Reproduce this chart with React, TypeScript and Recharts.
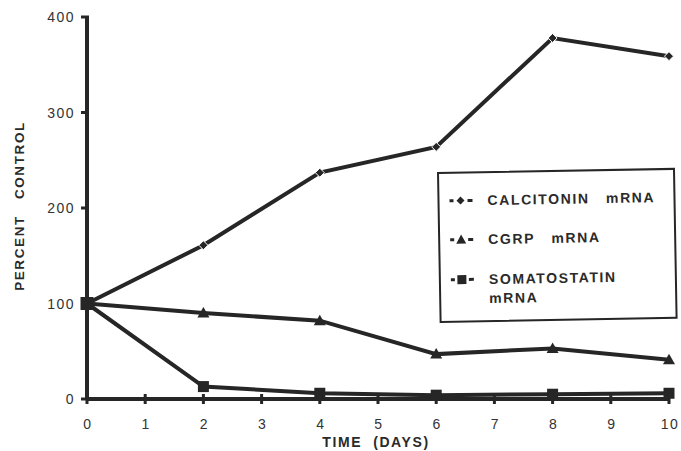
import React from 'react';
import { LineChart, Line, XAxis, YAxis, Legend } from 'recharts';

const days = [0, 2, 4, 6, 8, 10];
const calcitonin = [100, 161, 237, 264, 378, 359];
const cgrp = [100, 90, 82, 47, 53, 41];
const somatostatin = [100, 13, 6, 4, 5, 6];

const xTicks = [0, 1, 2, 3, 4, 5, 6, 7, 8, 9, 10];
const yTicks = [0, 100, 200, 300, 400];

const seriesNames = ['CALCITONIN\u00A0\u00A0\u00A0mRNA', 'CGRP\u00A0\u00A0\u00A0mRNA', 'SOMATOSTATIN'];

const data = days.map((d, i) => ({
  day: d,
  calcitonin: calcitonin[i],
  cgrp: cgrp[i],
  somatostatin: somatostatin[i],
}));

const INK = '#262626';
const TEXT = '#333333';
const FONT = '"Liberation Sans", Arial, sans-serif';

const Diamond = (props: any) => {
  const { cx, cy, index } = props;
  if (cx == null || cy == null || index === 0) return <g key={`d${index}`} />;
  const r = 4.5;
  return (
    <path key={`d${index}`} d={`M${cx},${cy - r}L${cx + r},${cy}L${cx},${cy + r}L${cx - r},${cy}Z`} fill={INK} stroke="#fff" strokeWidth={1} />
  );
};

const Triangle = (props: any) => {
  const { cx, cy, index } = props;
  if (cx == null || cy == null || index === 0) return <g key={`t${index}`} />;
  const s = 6;
  return (
    <path key={`t${index}`} d={`M${cx},${cy - s}L${cx + s},${cy + s * 0.75}L${cx - s},${cy + s * 0.75}Z`} fill={INK} />
  );
};

const Square = (props: any) => {
  const { cx, cy, index } = props;
  if (cx == null || cy == null) return <g key={`s${index}`} />;
  const s = index === 0 ? 6.5 : 5.5;
  return <rect key={`s${index}`} x={cx - s} y={cy - s} width={s * 2} height={s * 2} fill={INK} />;
};

const XTick = (props: any) => {
  const { x, y, payload } = props;
  return (
    <g>
      <line x1={x} x2={x} y1={y - 5} y2={y + 5} stroke={INK} strokeWidth={3} />
      <text x={x + 1} y={y + 30} textAnchor="middle" fontFamily={FONT} fontSize={14} letterSpacing={1.5} fill={TEXT}>
        {payload.value}
      </text>
    </g>
  );
};

const YTick = (props: any) => {
  const { x, y, payload } = props;
  return (
    <g>
      <line x1={x - 6} x2={x + 2} y1={y} y2={y} stroke={INK} strokeWidth={3} />
      <text x={x - 12} y={y + 5} textAnchor="end" fontFamily={FONT} fontSize={14} letterSpacing={1.5} fill={TEXT}>
        {payload.value}
      </text>
    </g>
  );
};

const LegendSymbol = ({ kind }: { kind: number }) => (
  <svg width={26} height={14} style={{ position: 'absolute', left: 8, top: -7 }}>
    <line x1={2} x2={6} y1={7} y2={7} stroke={INK} strokeWidth={3} />
    <line x1={20} x2={25} y1={7} y2={7} stroke={INK} strokeWidth={3} />
    {kind === 0 && <path d="M13,3L17,7L13,11L9,7Z" fill={INK} />}
    {kind === 1 && <path d="M13,2L18,11L8,11Z" fill={INK} />}
    {kind === 2 && <rect x={8.5} y={2.5} width={9} height={9} fill={INK} />}
  </svg>
);

const textStyle: React.CSSProperties = {
  position: 'absolute',
  left: 48,
  fontFamily: FONT,
  fontWeight: 'bold',
  fontSize: 14,
  letterSpacing: 1.6,
  color: '#2a2a2a',
  lineHeight: '16px',
  whiteSpace: 'nowrap',
};

const renderLegend = () => {
  const rows = [29, 68, 108];
  return (
    <div style={{ position: 'relative', width: 238, height: 151, border: `2px solid ${INK}`, boxSizing: 'border-box', background: '#fff' }}>
      {rows.map((top, i) => (
        <div key={i} style={{ position: 'absolute', left: 0, top: top - 2 }}>
          <LegendSymbol kind={i} />
        </div>
      ))}
      {seriesNames.map((n, i) => (
        <div key={`n${i}`} style={{ ...textStyle, top: rows[i] - 10 }}>{n}</div>
      ))}
      <div style={{ ...textStyle, top: 127 - 10 }}>mRNA</div>
    </div>
  );
};

export default function App() {
  return (
    <div style={{ position: 'absolute', left: 0, top: 0, width: 681, height: 451, background: '#fff' }}>
      <LineChart width={681} height={451} data={data} margin={{ top: 17, right: 12, left: 27, bottom: 22 }}>
        <XAxis
          dataKey="day"
          type="number"
          domain={[0, 10]}
          ticks={xTicks}
          tickSize={0}
          tickMargin={0}
          tickLine={false}
          axisLine={{ stroke: INK, strokeWidth: 4 }}
          tick={<XTick />}
          height={30}
          interval={0}
        />
        <YAxis
          type="number"
          domain={[0, 400]}
          ticks={yTicks}
          tickSize={0}
          tickMargin={0}
          tickLine={false}
          axisLine={{ stroke: INK, strokeWidth: 4 }}
          tick={<YTick />}
          width={60}
          interval={0}
        />
        <Line dataKey="calcitonin" stroke={INK} strokeWidth={4} dot={<Diamond />} isAnimationActive={false} />
        <Line dataKey="cgrp" stroke={INK} strokeWidth={4} dot={<Triangle />} isAnimationActive={false} />
        <Line dataKey="somatostatin" stroke={INK} strokeWidth={4} dot={<Square />} isAnimationActive={false} />
        <Legend
          layout="vertical"
          align="center"
          verticalAlign="middle"
          content={renderLegend}
          wrapperStyle={{ left: 437, top: 172, width: 238, height: 151, transform: 'rotate(-1deg)', transformOrigin: 'left top' }}
        />
        <text x={24} y={206} transform="rotate(-90 24 206)" textAnchor="middle" fontFamily={FONT} fontWeight="bold" fontSize={13.5} letterSpacing={1.6} fill="#2a2a2a">
          {'PERCENT\u00A0\u00A0\u00A0CONTROL'}
        </text>
        <text x={376} y={447} textAnchor="middle" fontFamily={FONT} fontWeight="bold" fontSize={14} letterSpacing={1.6} fill="#2a2a2a">
          {'TIME\u00A0\u00A0(DAYS)'}
        </text>
      </LineChart>
    </div>
  );
}
